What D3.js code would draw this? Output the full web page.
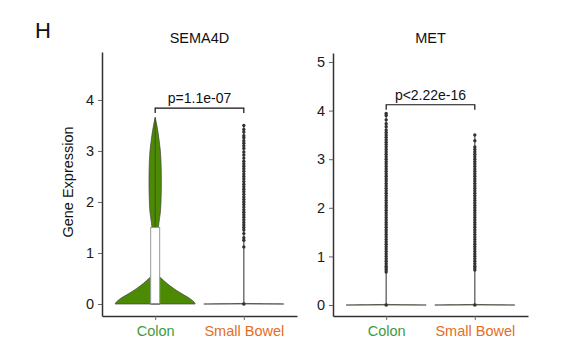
<!DOCTYPE html>
<html>
<head>
<meta charset="utf-8">
<script src="https://cdn.jsdelivr.net/npm/d3@7"></script>
<style>
  body { margin: 0; background: #fff; }
  svg { font-family: "Liberation Sans", Arial, sans-serif; }
  .axis path, .axis line { stroke: #333; }
  .axis text { font-size: 14.5px; }
</style>
</head>
<body>
<svg id="chart" width="577" height="361"></svg>
<script>
// categories + panels
const categories = ["Colon", "Small Bowel"];
const categoryColors = ["#3f9b3f", "#e56d1d"];
const panelTitles = ["SEMA4D", "MET"];
const pLabels = ["p=1.1e-07", "p<2.22e-16"];
const pBracketY = [3.84, 4.12];
const yTicksLeft = [0, 1, 2, 3, 4];
const yTicksRight = [0, 1, 2, 3, 4, 5];

// violin profiles: [expression, relative half width]
const sema4dColonViolin = [
  [0, 1], [0.04, 0.97], [0.1, 0.88], [0.15, 0.78], [0.2, 0.67], [0.3, 0.47],
  [0.4, 0.3], [0.5, 0.16], [0.55, 0.1], [0.7, 0.07], [1.0, 0.05], [1.3, 0.06],
  [1.5, 0.08], [1.6, 0.095], [1.8, 0.13], [2.0, 0.145], [2.4, 0.155], [2.8, 0.145],
  [3.0, 0.13], [3.2, 0.1], [3.4, 0.065], [3.55, 0.03], [3.66, 0]
];
const sema4dSmallBowelViolin = [[0, 1], [0.015, 0], [3.5, 0]];
const metColonViolin = [[0, 1], [0.015, 0], [3.94, 0]];
const metSmallBowelViolin = [[0, 1], [0.015, 0], [3.5, 0]];

// boxplots: [lower whisker, q1, median, q3, upper whisker]
const sema4dColonBox = [0, 0, 0, 1.5, 3.66];
const sema4dSmallBowelBox = [0, 0, 0, 0, 0];
const metColonBox = [0, 0, 0, 0, 0];
const metSmallBowelBox = [0, 0, 0, 0, 0];

// outlier points
const sema4dColonOutliers = [];
const sema4dSmallBowelOutliers = [
  1.12, 1.25, 1.3, 1.38, 1.45, 1.5, 1.55, 1.6, 1.65, 1.7,
  1.75, 1.8, 1.85, 1.9, 1.95, 2.0, 2.05, 2.1, 2.15, 2.2, 2.25, 2.3, 2.35, 2.4,
  2.45, 2.5, 2.55, 2.6, 2.65, 2.7, 2.75, 2.8,
  2.86, 2.92, 2.98, 3.05, 3.1, 3.15, 3.2, 3.26, 3.3, 3.37, 3.42, 3.5
];
const metColonOutliers = [
  0.68, 0.72, 0.76, 0.8, 0.85, 0.9, 0.95, 1.0, 1.05, 1.1, 1.15, 1.2, 1.25, 1.3,
  1.35, 1.4, 1.45, 1.5, 1.55, 1.6, 1.65, 1.7, 1.75, 1.8, 1.85, 1.9, 1.95, 2.0,
  2.05, 2.1, 2.15, 2.2, 2.25, 2.3, 2.35, 2.4, 2.45, 2.5, 2.55, 2.6, 2.65, 2.7,
  2.75, 2.8, 2.85, 2.9, 2.95, 3.0, 3.05, 3.1, 3.15, 3.2, 3.25, 3.3,
  3.35, 3.4, 3.45, 3.5, 3.55, 3.6, 3.67, 3.73, 3.81, 3.9, 3.94
];
const metSmallBowelOutliers = [
  0.72, 0.76, 0.8, 0.85, 0.9, 0.95, 1.0, 1.05, 1.1, 1.15, 1.2, 1.25, 1.3, 1.35,
  1.4, 1.45, 1.5, 1.55, 1.6, 1.65, 1.7, 1.75, 1.8, 1.85, 1.9, 1.95, 2.0, 2.05,
  2.1, 2.15, 2.2, 2.25, 2.3, 2.35, 2.4, 2.45, 2.5, 2.55, 2.6, 2.65, 2.7, 2.75,
  2.8, 2.85, 2.9, 2.95, 3.0, 3.05, 3.1, 3.15, 3.2, 3.25, 3.38, 3.5
];

var panels = [
  {
    title: panelTitles[0], p: pLabels[0], bracket: pBracketY[0], ticks: yTicksLeft,
    xRange: [102, 297], yDomain: [-0.235, 4.94], yRange: [316, 52],
    violins: [sema4dColonViolin, sema4dSmallBowelViolin],
    boxes: [sema4dColonBox, sema4dSmallBowelBox],
    outliers: [sema4dColonOutliers, sema4dSmallBowelOutliers]
  },
  {
    title: panelTitles[1], p: pLabels[1], bracket: pBracketY[1], ticks: yTicksRight,
    xRange: [333, 528], yDomain: [-0.226, 5.185], yRange: [316, 53],
    violins: [metColonViolin, metSmallBowelViolin],
    boxes: [metColonBox, metSmallBowelBox],
    outliers: [metColonOutliers, metSmallBowelOutliers]
  }
];

var svg = d3.select("#chart");
var fills = ["#4b8a02", "#4b8a02"];
var halfW = 40;

svg.append("text").attr("x", 35).attr("y", 38)
  .style("font-size", "22px").attr("fill", "#111").text("H");

svg.append("text")
  .attr("transform", "translate(73,182) rotate(-90)")
  .attr("text-anchor", "middle")
  .style("font-size", "14.5px").attr("fill", "#111")
  .text("Gene Expression");

panels.forEach(function(pn) {
  var x = d3.scalePoint().domain(categories).range(pn.xRange).padding(0.6);
  var y = d3.scaleLinear().domain(pn.yDomain).range(pn.yRange);
  var g = svg.append("g");

  g.append("text")
    .attr("x", (pn.xRange[0] + pn.xRange[1]) / 2).attr("y", 43)
    .attr("text-anchor", "middle").style("font-size", "14.5px").attr("fill", "#111")
    .text(pn.title);

  // violins
  categories.forEach(function(c, i) {
    var cx = x(c);
    var area = d3.area()
      .y(function(d) { return y(d[0]); })
      .x0(function(d) { return cx - d[1] * halfW; })
      .x1(function(d) { return cx + d[1] * halfW; })
      .curve(d3.curveMonotoneY);
    g.append("path").datum(pn.violins[i])
      .attr("d", area)
      .attr("fill", fills[i])
      .attr("stroke", "#444").attr("stroke-width", 0.7);

    var b = pn.boxes[i];
    if (b[4] > b[3]) {
      g.append("line")
        .attr("x1", cx).attr("x2", cx).attr("y1", y(b[3])).attr("y2", y(b[4]))
        .attr("stroke", "#333").attr("stroke-width", 0.6);
    }
    if (b[3] > b[1]) {
      g.append("rect")
        .attr("x", cx - 4.5).attr("width", 9)
        .attr("y", y(b[3])).attr("height", y(b[1]) - y(b[3]))
        .attr("fill", "#fff").attr("stroke", "#999").attr("stroke-width", 1);
      g.append("line")
        .attr("x1", cx - 4.5).attr("x2", cx + 4.5).attr("y1", y(b[2])).attr("y2", y(b[2]))
        .attr("stroke", "#555").attr("stroke-width", 1);
    } else {
      g.append("circle").attr("cx", cx).attr("cy", y(b[2])).attr("r", 1.8).attr("fill", "#333");
    }

    g.append("g").selectAll("circle")
      .data(pn.outliers[i])
      .enter().append("circle")
        .attr("cx", cx).attr("cy", function(d) { return y(d); })
        .attr("r", 1.7).attr("fill", "#333");
  });

  // p-value bracket
  var by = y(pn.bracket);
  var x0 = x(categories[0]), x1 = x(categories[1]);
  g.append("path")
    .attr("d", "M" + x0 + "," + (by + 5) + "V" + by + "H" + x1 + "V" + (by + 5))
    .attr("fill", "none").attr("stroke", "#111").attr("stroke-width", 1.2);
  g.append("text")
    .attr("x", (x0 + x1) / 2).attr("y", by - 5)
    .attr("text-anchor", "middle").style("font-size", "14px").attr("fill", "#111")
    .text(pn.p);

  // axes
  var ya = g.append("g").attr("class", "axis")
    .attr("transform", "translate(" + pn.xRange[0] + ",0)")
    .call(d3.axisLeft(y).tickValues(pn.ticks).tickFormat(d3.format("d"))
      .tickSize(4).tickSizeOuter(0).tickPadding(4));
  ya.select(".domain").attr("stroke-width", 1.5);
  ya.selectAll(".tick line").style("stroke", "#666");
  ya.selectAll(".tick text").style("fill", "#1a1a1a");

  var xa = g.append("g").attr("class", "axis")
    .attr("transform", "translate(0," + pn.yRange[0] + ")")
    .call(d3.axisBottom(x).tickSize(4).tickSizeOuter(0).tickPadding(6));
  xa.select(".domain").attr("stroke-width", 1.5);
  xa.selectAll(".tick line").style("stroke", "#666");
  xa.selectAll(".tick text")
    .style("fill", function(d, i) { return categoryColors[i]; });
});
</script>
</body>
</html>
